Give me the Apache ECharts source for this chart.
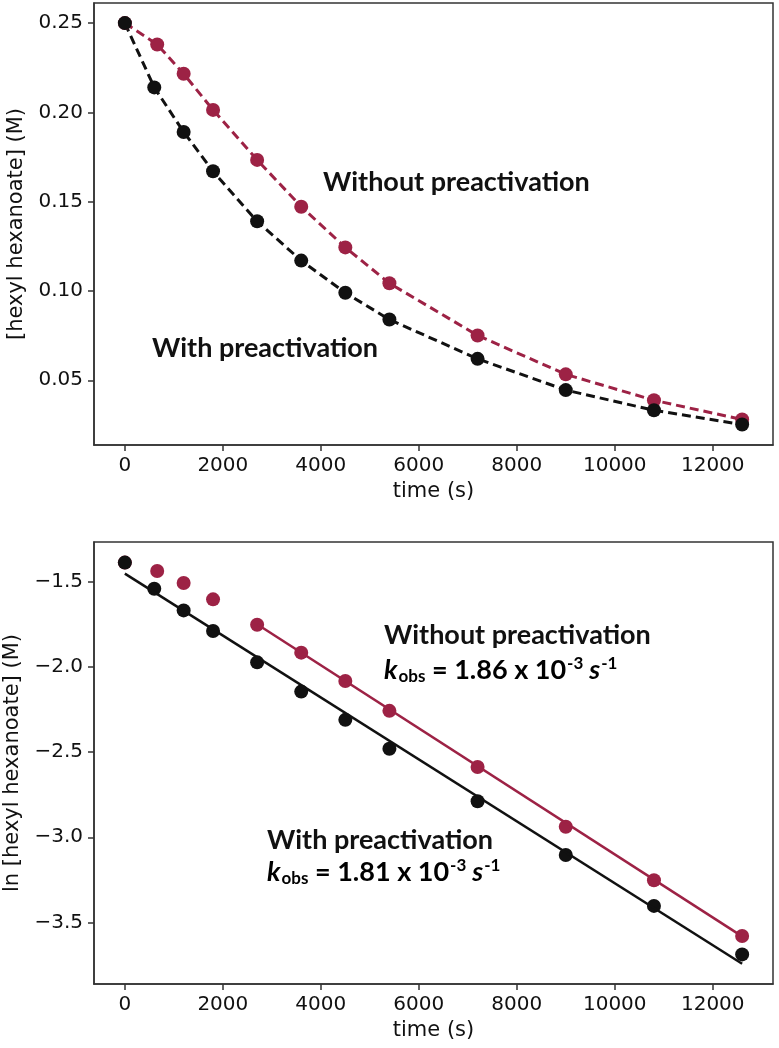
<!DOCTYPE html>
<html>
<head>
<meta charset="utf-8">
<script src="https://cdn.jsdelivr.net/npm/echarts@6/dist/echarts.min.js"></script>
<style>
  html, body { margin: 0; padding: 0; background: #fff; }
  #chart { width: 779px; height: 1048px; }
</style>
</head>
<body>
<div id="chart"></div>
<script>
// sampling times (s)
var timeWith = [0, 600, 1200, 1800, 2700, 3600, 4500, 5400, 7200, 9000, 10800, 12600];
var timeWithout = [0, 660, 1200, 1800, 2700, 3600, 4500, 5400, 7200, 9000, 10800, 12600];

// [hexyl hexanoate] (M)
var concWith = [0.250, 0.214, 0.189, 0.167, 0.139, 0.117, 0.099, 0.084, 0.062, 0.0445, 0.0332, 0.0252];
var concWithout = [0.250, 0.238, 0.2216, 0.2014, 0.1734, 0.1472, 0.1244, 0.1043, 0.0751, 0.0533, 0.0388, 0.0280];

// ln [hexyl hexanoate]
var lnWith = [-1.386, -1.540, -1.667, -1.788, -1.972, -2.144, -2.310, -2.480, -2.788, -3.104, -3.403, -3.688];
var lnWithout = [-1.386, -1.435, -1.506, -1.602, -1.751, -1.915, -2.082, -2.257, -2.587, -2.938, -3.252, -3.580];

// linear fits (endpoints)
var fitWithT = [0, 12600];
var fitWithY = [-1.451, -3.743];
var fitWithoutT = [2700, 12600];
var fitWithoutY = [-1.748, -3.582];

// tick labels
var xTicks = [0, 2000, 4000, 6000, 8000, 10000, 12000];
var yTicksTop = [0.05, 0.10, 0.15, 0.20, 0.25];
var yTicksBottom = [-3.5, -3.0, -2.5, -2.0, -1.5];

var RED = '#9d2245';
var BLACK = '#111111';
var AXIS = '#333333';

function pairs(xs, ys) {
  var out = [];
  for (var i = 0; i < xs.length; i++) {
    out.push([xs[i], ys[i]]);
  }
  return out;
}

var tickFont = { fontFamily: 'DejaVu Sans', fontSize: 20, color: '#111' };
var nameFont = { fontFamily: 'DejaVu Sans', fontSize: 21, color: '#111' };

function makeX(gridIndex) {
  return {
    type: 'value',
    gridIndex: gridIndex,
    min: -630,
    max: 13230,
    name: 'time (s)',
    nameLocation: 'middle',
    nameGap: 36,
    nameTextStyle: nameFont,
    axisLine: { show: true, onZero: false, lineStyle: { color: AXIS, width: 1.5 } },
    axisTick: { show: true, length: 6, customValues: xTicks, lineStyle: { color: AXIS, width: 1.5 } },
    axisLabel: Object.assign({
      margin: 11, customValues: xTicks,
      formatter: function (v) { return String(v); }
    }, tickFont),
    splitLine: { show: false }
  };
}

function makeY(gridIndex, min, max, ticks, name, fmt) {
  return {
    type: 'value',
    gridIndex: gridIndex,
    min: min,
    max: max,
    name: name,
    nameLocation: 'middle',
    nameGap: 67,
    nameTextStyle: nameFont,
    axisLine: { show: true, onZero: false, lineStyle: { color: AXIS, width: 1.5 } },
    axisTick: { show: true, length: 6, customValues: ticks, lineStyle: { color: AXIS, width: 1.5 } },
    axisLabel: Object.assign({ margin: 11, customValues: ticks, formatter: fmt }, tickFont),
    splitLine: { show: false }
  };
}

var boldFont = 'Lato';
var labelStyle = { fontFamily: boldFont, fontWeight: 'bold', fontSize: 27, fill: '#111' };

function plainLabel(x, y, text) {
  return {
    type: 'text', x: x, y: y,
    style: Object.assign({ text: text, verticalAlign: 'middle' }, labelStyle)
  };
}

function kobsLabel(x, y, val) {
  var base = { fontFamily: boldFont, fontWeight: 'bold', fontSize: 27, color: '#111', verticalAlign: 'middle' };
  var small = { fontFamily: boldFont, fontWeight: 'bold', fontSize: 17, color: '#111' };
  return {
    type: 'text', x: x, y: y,
    style: {
      text: '{k|k}{sub|obs}{n| = ' + val + ' x 10}{sup|-3}{s| s}{sup|-1}',
      verticalAlign: 'middle',
      rich: {
        k: Object.assign({}, base, { fontStyle: 'italic' }),
        n: base,
        s: Object.assign({}, base, { fontStyle: 'italic' }),
        sub: Object.assign({}, small, { padding: [13, 0, 0, 1] }),
        sup: Object.assign({}, small, { padding: [0, 0, 13, 1] })
      }
    }
  };
}

var chart = echarts.init(document.getElementById('chart'), null, { renderer: 'canvas' });

var option = {
  animation: false,
  backgroundColor: '#fff',
  grid: [
    { left: 94, top: 3, width: 679, height: 442, show: true, borderColor: AXIS, borderWidth: 1.5, outerBoundsMode: 'none', containLabel: false },
    { left: 94, top: 542, width: 679, height: 442, show: true, borderColor: AXIS, borderWidth: 1.5, outerBoundsMode: 'none', containLabel: false }
  ],
  xAxis: [makeX(0), makeX(1)],
  yAxis: [
    makeY(0, 0.01375, 0.26125, yTicksTop, '[hexyl hexanoate] (M)', function (v) { return v.toFixed(2); }),
    makeY(1, -3.862, -1.265, yTicksBottom, 'ln [hexyl hexanoate] (M)', function (v) {
      return '\u2212' + Math.abs(v).toFixed(1);
    })
  ],
  series: [
    {
      name: 'Without preactivation',
      type: 'line', xAxisIndex: 0, yAxisIndex: 0,
      data: pairs(timeWithout, concWithout),
      symbol: 'circle', symbolSize: 14,
      itemStyle: { color: RED, opacity: 1 },
      lineStyle: { color: RED, width: 3, type: [9, 5] }
    },
    {
      name: 'With preactivation',
      type: 'line', xAxisIndex: 0, yAxisIndex: 0,
      data: pairs(timeWith, concWith),
      symbol: 'circle', symbolSize: 14,
      itemStyle: { color: BLACK, opacity: 1 },
      lineStyle: { color: BLACK, width: 3, type: [9, 5] }
    },
    {
      type: 'scatter', xAxisIndex: 1, yAxisIndex: 1,
      data: pairs(timeWithout, lnWithout),
      symbolSize: 14,
      itemStyle: { color: RED, opacity: 1 }
    },
    {
      type: 'line', xAxisIndex: 1, yAxisIndex: 1,
      data: pairs(fitWithoutT, fitWithoutY),
      symbol: 'none',
      lineStyle: { color: RED, width: 2.5 }
    },
    {
      type: 'scatter', xAxisIndex: 1, yAxisIndex: 1,
      data: pairs(timeWith, lnWith),
      symbolSize: 14,
      itemStyle: { color: BLACK, opacity: 1 }
    },
    {
      type: 'line', xAxisIndex: 1, yAxisIndex: 1,
      data: pairs(fitWithT, fitWithY),
      symbol: 'none',
      lineStyle: { color: BLACK, width: 2.5 }
    }
  ],
  graphic: [
    plainLabel(323, 182, 'Without preactivation'),
    plainLabel(152, 348, 'With preactivation'),
    plainLabel(384, 635, 'Without preactivation'),
    kobsLabel(384, 670, '1.86'),
    plainLabel(267, 840, 'With preactivation'),
    kobsLabel(267, 872, '1.81')
  ]
};

chart.setOption(option);
</script>
</body>
</html>
